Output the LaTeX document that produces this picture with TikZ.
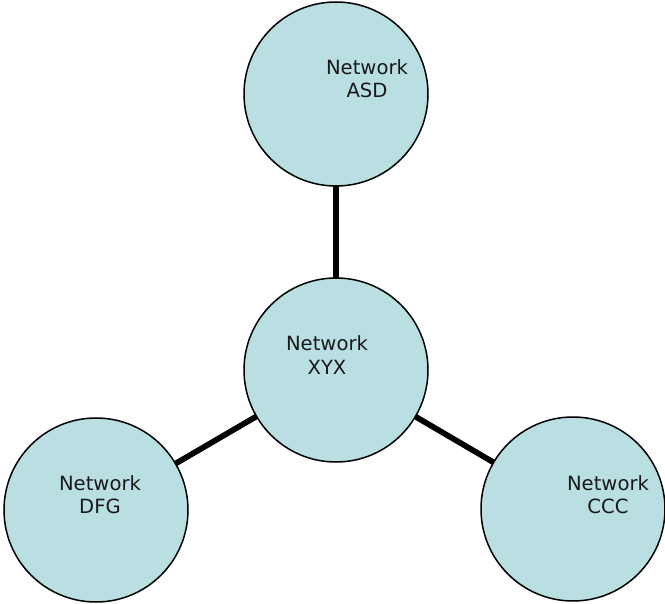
\documentclass[tikz,border=0pt]{standalone}
\usepackage{fontspec}
\setmainfont{DejaVu Sans}
\definecolor{netfill}{RGB}{185,223,227}
\begin{document}
\begin{tikzpicture}[x=1pt,y=-1pt,
  net/.style={circle,draw=black,line width=1.5pt,fill=netfill,minimum size=184pt,inner sep=0pt},
  txt/.style={anchor=base,inner sep=0pt,font=\fontsize{19.6pt}{24pt}\selectfont,text=black!90},
  link/.style={line width=5.7pt,draw=black}]
\useasboundingbox (0,0) rectangle (665,604);
\coordinate (casd) at (336,94);
\coordinate (cxyx) at (336,370);
\coordinate (cdfg) at (96,510);
\coordinate (cccc) at (573,509);
\draw[link] (casd) -- (cxyx);
\draw[link] (cxyx) -- (cdfg);
\draw[link] (cxyx) -- (cccc);
\node[net] (asd) at (casd) {};
\node[net] (xyx) at (cxyx) {};
\node[net] (dfg) at (cdfg) {};
\node[net] (ccc) at (cccc) {};
\node[txt] (asd1) at (367,75) {Network};
\node[txt] (asd2) at (367,98) {ASD};
\node[txt] (xyx1) at (327,351) {Network};
\node[txt] (xyx2) at (327,375) {XYX};
\node[txt] (dfg1) at (100,490) {Network};
\node[txt] (dfg2) at (100,514) {DFG};
\node[txt] (ccc1) at (608,490) {Network};
\node[txt] (ccc2) at (608,513) {CCC};
\end{tikzpicture}
\end{document}
